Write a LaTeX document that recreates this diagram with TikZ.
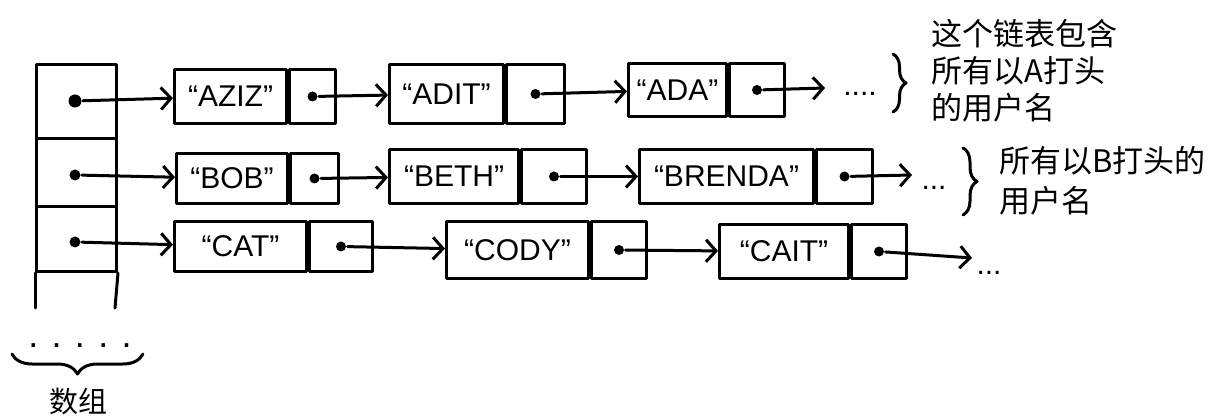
\documentclass[tikz,border=0pt]{standalone}
\usepackage{fontspec}
\setmainfont{Liberation Sans}
\newfontfamily\cjk{Noto Sans CJK SC}
\usetikzlibrary{arrows.meta,decorations.pathreplacing}
\newcommand\listnode[7]{%
  \node[txt, minimum width=#4pt, minimum height=#6pt] (#1) at (#2,#3) {#7};
  \node[ptr, minimum width=#5pt, minimum height=#6pt] (#1p) at (#1.north east) {};
  \node[dot] (#1d) at (#1p.center) {};
}
\begin{document}
\begin{tikzpicture}[x=1pt,y=-1pt,
  line width=3pt, line join=round, line cap=round,
  txt/.style={draw, rectangle, anchor=north west, inner sep=0pt, font=\fontsize{30}{32}\selectfont},
  ptr/.style={draw, rectangle, anchor=north west, inner sep=0pt},
  cell/.style={draw, rectangle, anchor=north west, inner sep=0pt, minimum width=80pt},
  dot/.style={circle, fill, inner sep=0pt, minimum size=10pt},
  link/.style={-{Straight Barb[length=10pt,width=22pt,line width=3pt]}},
  dots/.style={anchor=base, inner sep=0pt, font=\fontsize{30}{32}\selectfont},
  note/.style={font=\cjk\fontsize{31}{37}\selectfont, align=left, anchor=north west, inner sep=0pt},
  brc/.style={decorate, decoration={brace, amplitude=#1}},
]
\useasboundingbox (0,0) rectangle (1220,419);

% array
\node[cell, minimum height=74pt] (c1) at (35,63) {};
\node[cell, minimum height=68pt] (c2) at (35,137) {};
\node[cell, minimum height=65pt] (c3) at (35,205) {};
\coordinate (bl) at (35,308);
\coordinate (br) at (115,308);
\draw (c3.south west) -- (bl);
\draw (c3.south east) -- (br);
\node[dot, minimum size=13pt] (a1) at (75,101) {};
\node[dot, minimum size=11pt] (a2) at (75,175) {};
\node[dot, minimum size=11pt] (a3) at (75,242) {};

% row 1
\listnode{aziz}{173}{68}{112}{46}{54}{“AZIZ”}
\listnode{adit}{388}{63}{114}{58}{59}{“ADIT”}
\listnode{ada}{627}{62}{98}{55}{53}{“ADA”}
\coordinate (e1) at (825,88);
\draw[link] (a1) -- (aziz);
\draw[link] (azizd) -- (adit);
\draw[link] (aditd) -- (ada);
\draw[link] (adad) -- (e1);
\node[dots] (dt1) at (860,96) {....};

% row 2
\listnode{bob}{175}{152}{111}{48}{50}{“BOB”}
\listnode{beth}{388}{148}{129}{65}{54}{“BETH”}
\listnode{brenda}{638}{148}{174}{56}{54}{“BRENDA”}
\coordinate (e2) at (912,175);
\draw[link] (a2) -- (bob);
\draw[link] (bobd) -- (beth);
\draw[link] (bethd) -- (brenda);
\draw[link] (brendad) -- (e2);
\node[dots] (dt2) at (934,190) {...};

% row 3
\listnode{cat}{173}{220}{132}{63}{50}{“CAT”}
\listnode{cody}{445}{220}{142}{55}{57}{“CODY”}
\listnode{cait}{718}{223}{129}{55}{54}{“CAIT”}
\coordinate (e3) at (972,258);
\draw[link] (a3) -- (cat);
\draw[link] (catd) -- (cody);
\draw[link] (codyd) -- (cait);
\draw[link] (caitd) -- (e3);
\node[dots] (dt3) at (989,275) {...};

% braces and notes
\coordinate (b1t) at (893,54);
\coordinate (b1b) at (893,112);
\draw[brc=13pt] (b1t) -- (b1b);
\node[note] (n1) at (930,18) {这个链表包含\\所有以A打头\\的用户名};

\coordinate (b2t) at (963,148);
\coordinate (b2b) at (963,215);
\draw[brc=14pt] (b2t) -- (b2b);
\node[note, font=\cjk\fontsize{31}{40}\selectfont] (n2) at (998,145) {所有以B打头的\\用户名};

% bottom
\node[dots, font=\fontsize{36}{38}\selectfont] (dt4) at (80,348) {. . . . .};
\coordinate (b3l) at (12,354);
\coordinate (b3r) at (143,354);
\draw[brc=20pt] (b3r) -- (b3l);
\node[font=\cjk\fontsize{29}{32}\selectfont, inner sep=0pt] (arr) at (78,402) {数组};
\end{tikzpicture}
\end{document}
